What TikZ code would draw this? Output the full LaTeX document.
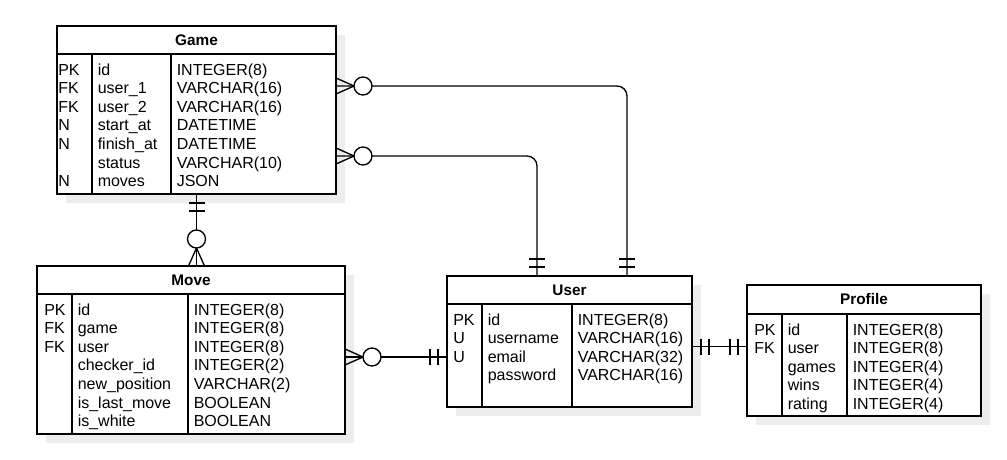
\documentclass[tikz,border=0pt]{standalone}
\usepackage{fontspec}
\setmainfont{Liberation Sans}
\usetikzlibrary{calc,shadows}

\tikzset{
  x=0.75pt, y=-0.75pt,
  tbl/.style={draw=black, line width=1pt, fill=white, inner sep=0pt, outer sep=0pt,
    anchor=north west,
    drop shadow={shadow xshift=6.75pt, shadow yshift=-6.75pt, fill=black!7, opacity=1}},
  tline/.style={draw=black, line width=1pt},
  conn/.style={draw=black, line width=1pt},
  hdr/.style={font=\fontsize{11.5pt}{13pt}\selectfont\bfseries, inner sep=0pt},
  cell/.style={font=\fontsize{12pt}{14pt}\selectfont, anchor=base west, inner sep=0pt},
}

% crow's foot with ring ("zero or many"), drawn outward from a table edge
\newcommand\ermany[2]{%
  \begin{scope}[shift={(#1)}, rotate=#2]
    \draw[conn] (0,-8) -- (18,0) -- (0,8);
    \draw[conn, fill=white] (27,0) circle[radius=6.75pt];
  \end{scope}}
% double bar ("exactly one"), drawn outward from a table edge
\newcommand\erone[2]{%
  \begin{scope}[shift={(#1)}, rotate=#2]
    \draw[conn] (9,-8) -- (9,8) (17,-8) -- (17,8);
  \end{scope}}

\begin{document}
\begin{tikzpicture}
\useasboundingbox (0,0) rectangle (1007,460);

% ---------- Game ----------
\node[tbl, minimum width=279*0.75pt, minimum height=168*0.75pt] (game) at (57,26) {};
\draw[tline] (57,54) -- (336,54) (92,54) -- (92,194) (171,54) -- (171,194);
\node[hdr] (game-title) at (196.5,40) {Game};
\foreach \k/\n/\t [count=\i from 0] in {PK/id/INTEGER(8), FK/user\_1/VARCHAR(16),
    FK/user\_2/VARCHAR(16), N/start\_at/DATETIME, N/finish\_at/DATETIME,
    /status/VARCHAR(10), N/moves/JSON}{
  \node[cell] (game-k\i) at (58,{75+18.6*\i}) {\k};
  \node[cell] (game-n\i) at (97.5,{75+18.6*\i}) {\n};
  \node[cell] (game-t\i) at (176.5,{75+18.6*\i}) {\t};
}

% ---------- Move ----------
\node[tbl, minimum width=308*0.75pt, minimum height=168*0.75pt] (move) at (37,266) {};
\draw[tline] (37,294) -- (345,294) (72,294) -- (72,434) (188,294) -- (188,434);
\node[hdr] (move-title) at (191,280) {Move};
\foreach \k/\n/\t [count=\i from 0] in {PK/id/INTEGER(8), FK/game/INTEGER(8),
    FK/user/INTEGER(8), /checker\_id/INTEGER(2), /new\_position/VARCHAR(2),
    /is\_last\_move/BOOLEAN, /is\_white/BOOLEAN}{
  \node[cell] (move-k\i) at (44,{315+18.6*\i}) {\k};
  \node[cell] (move-n\i) at (77.5,{315+18.6*\i}) {\n};
  \node[cell] (move-t\i) at (193.5,{315+18.6*\i}) {\t};
}

% ---------- User ----------
\node[tbl, minimum width=245*0.75pt, minimum height=131*0.75pt] (user) at (447,276) {};
\draw[tline] (447,304) -- (692,304) (482,304) -- (482,407) (572,304) -- (572,407);
\node[hdr] (user-title) at (569.5,290) {User};
\foreach \k/\n/\t [count=\i from 0] in {PK/id/INTEGER(8), U/username/VARCHAR(16),
    U/email/VARCHAR(32), /password/VARCHAR(16)}{
  \node[cell] (user-k\i) at (453,{325+18.6*\i}) {\k};
  \node[cell] (user-n\i) at (487.5,{325+18.6*\i}) {\n};
  \node[cell] (user-t\i) at (577.5,{325+18.6*\i}) {\t};
}

% ---------- Profile ----------
\node[tbl, minimum width=234*0.75pt, minimum height=131*0.75pt] (profile) at (747,285) {};
\draw[tline] (747,314) -- (981,314) (782,314) -- (782,416) (847,314) -- (847,416);
\node[hdr] (profile-title) at (864,299.5) {Profile};
\foreach \k/\n/\t [count=\i from 0] in {PK/id/INTEGER(8), FK/user/INTEGER(8),
    /games/INTEGER(4), /wins/INTEGER(4), /rating/INTEGER(4)}{
  \node[cell] (profile-k\i) at (754,{335+18.6*\i}) {\k};
  \node[cell] (profile-n\i) at (787.5,{335+18.6*\i}) {\n};
  \node[cell] (profile-t\i) at (852.5,{335+18.6*\i}) {\t};
}

% ---------- relationship end points ----------
\coordinate (g-u1)  at (game.east |- 0,86);
\coordinate (u-g1)  at (user.north -| 627,0);
\coordinate (g-u2)  at (game.east |- 0,156);
\coordinate (u-g2)  at (user.north -| 537,0);
\coordinate (g-m)   at (game.south);
\coordinate (m-g)   at (move.north -| game.south);
\coordinate (m-u)   at (move.east |- 0,357);
\coordinate (u-m)   at (user.west |- 0,357);
\coordinate (u-p)   at (user.east |- 0,346.5);
\coordinate (p-u)   at (profile.west |- 0,346.5);

% ---------- connectors ----------
\draw[conn, rounded corners=7.5pt] (g-u1) -- (g-u1 -| u-g1) -- (u-g1);
\draw[conn, rounded corners=7.5pt] (g-u2) -- (g-u2 -| u-g2) -- (u-g2);
\draw[conn] (g-m) -- (m-g);
\draw[conn] (m-u) -- (u-m);
\draw[conn] (u-p) -- (p-u);

% ---------- cardinality marks ----------
\ermany{g-u1}{0}
\erone{u-g1}{90}
\ermany{g-u2}{0}
\erone{u-g2}{90}
\erone{g-m}{-90}
\ermany{m-g}{90}
\ermany{m-u}{0}
\erone{u-m}{180}
\erone{u-p}{0}
\erone{p-u}{180}

\end{tikzpicture}
\end{document}
